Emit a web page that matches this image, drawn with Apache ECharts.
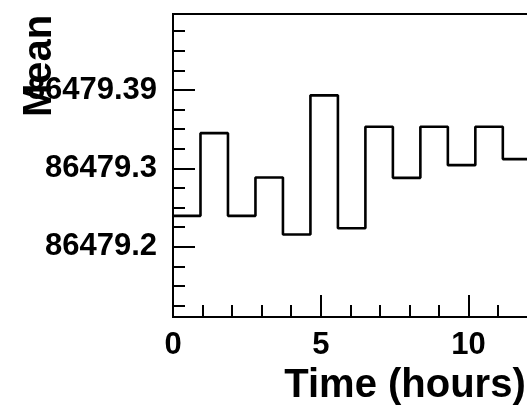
<!DOCTYPE html>
<html>
<head>
<meta charset="utf-8">
<script src="https://cdn.jsdelivr.net/npm/echarts@6/dist/echarts.min.js"></script>
<style>
html,body{margin:0;padding:0;background:#fff;}
#chart{width:527px;height:411px;}
</style>
</head>
<body>
<div id="chart"></div>
<script>
// Bin edges (hours) and mean value per bin
var binEdges = [0, 0.93, 1.86, 2.79, 3.72, 4.65, 5.58, 6.51, 7.44, 8.37, 9.30, 10.23, 11.16, 12.09];
var meanValues = [86479.2395, 86479.345, 86479.2395, 86479.2885, 86479.2157, 86479.3932,
                  86479.2238, 86479.3531, 86479.288, 86479.3531, 86479.3042, 86479.3531, 86479.3119];
var yTickValues = [86479.2, 86479.3, 86479.4];
var yTickLabels = ['86479.2', '86479.3', '86479.39'];
var xTickValues = [0, 5, 10, 15];
var xTickLabels = ['0', '5', '10', '15'];
var yRange = [86479.1105, 86479.497];
var xRange = [0, 15.7];

var stepData = [];
for (var i = 0; i < meanValues.length; i++) {
  stepData.push([binEdges[i], meanValues[i]]);
}
stepData.push([binEdges[meanValues.length], meanValues[meanValues.length - 1]]);

function lookup(vals, labels, v) {
  for (var k = 0; k < vals.length; k++) {
    if (Math.abs(vals[k] - v) < 1e-6) return labels[k];
  }
  return '';
}

var font = 'Liberation Sans, Arial, Helvetica, sans-serif';
var chart = echarts.init(document.getElementById('chart'), null, {renderer: 'canvas'});
chart.setOption({
  animation: false,
  backgroundColor: '#ffffff',
  grid: {
    left: 173, top: 14, bottom: 94, right: -110,
    show: true, borderColor: '#000', borderWidth: 2,
    containLabel: false, outerBoundsMode: 'none'
  },
  xAxis: {
    type: 'value', min: xRange[0], max: xRange[1], interval: 5,
    name: 'Time (hours)', nameLocation: 'middle', nameGap: 49, nameMoveOverlap: false,
    nameTextStyle: {fontFamily: font, fontWeight: 'bold', fontSize: 40, color: '#000'},
    axisLine: {show: true, onZero: false, lineStyle: {color: '#000', width: 2}},
    axisTick: {show: true, inside: true, length: 22, lineStyle: {color: '#000', width: 2}},
    minorTick: {show: true, splitNumber: 5, length: 12, lineStyle: {color: '#000', width: 2}},
    splitLine: {show: false},
    minorSplitLine: {show: false},
    axisLabel: {
      margin: 13, fontFamily: font, fontWeight: 'bold', fontSize: 31, color: '#000',
      formatter: function (v) { return lookup(xTickValues, xTickLabels, v); }
    }
  },
  yAxis: {
    type: 'value', min: yRange[0], max: yRange[1],
    minInterval: 0.1, maxInterval: 0.1, splitNumber: 4, scale: true,
    name: 'Mean', nameLocation: 'middle', nameRotate: 90, nameGap: 113, nameMoveOverlap: false,
    nameTextStyle: {fontFamily: font, fontWeight: 'bold', fontSize: 40, color: '#000',
                    padding: [0, 0, 0, 199]},
    axisLine: {show: true, onZero: false, lineStyle: {color: '#000', width: 2}},
    axisTick: {show: true, inside: true, length: 22, lineStyle: {color: '#000', width: 2}},
    minorTick: {show: true, splitNumber: 4, length: 12, lineStyle: {color: '#000', width: 2}},
    splitLine: {show: false},
    minorSplitLine: {show: false},
    axisLabel: {
      margin: 16, fontFamily: font, fontWeight: 'bold', fontSize: 31, color: '#000',
      showMinLabel: true, showMaxLabel: true,
      formatter: function (v) { return lookup(yTickValues, yTickLabels, v); }
    }
  },
  series: [{
    type: 'line', step: 'end', data: stepData, symbol: 'none',
    lineStyle: {color: '#000', width: 2.6}, clip: true
  }]
});
</script>
</body>
</html>
